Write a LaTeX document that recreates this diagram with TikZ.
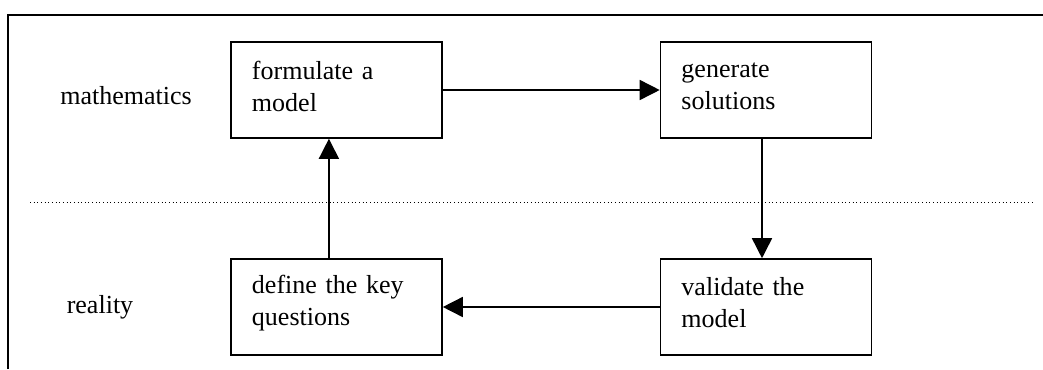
\documentclass[tikz,border=0pt]{standalone}
\usepackage{fontspec}
\setmainfont{Liberation Serif}
\usepackage{tikz}
\usetikzlibrary{arrows.meta,positioning}
\tikzset{
  stagebox/.style={draw, line width=1.1pt, rectangle, minimum width=5.275cm,
    minimum height=2.4cm, inner xsep=0.525cm, text width=4.225cm, align=left,
    font=\fontsize{18.5}{22.8}\selectfont,
    execute at end node={\par\vspace{0.2cm}}},
  flow/.style={line width=1.1pt, -{Triangle[length=5mm,width=5mm]}},
  side/.style={font=\fontsize{18.5}{22.8}\selectfont}
}

\begin{document}
\begin{tikzpicture}[x=0.025cm, y=-0.025cm]
\useasboundingbox (0,0) rectangle (1043,369);

% frame and separator
\draw[line width=1pt] (8,369) -- (8,15) -- (1043,15);
\draw[dotted, line width=0.6pt] (30,202) -- (1035,202);

\node[side] (maths) at (126,96) {mathematics};
\node[side] (real) at (100,307) {reality};

\node[stagebox] (fm) at (336.5,90) {formulate a\\model};
\node[stagebox] (gs) at (766,90) {generate\\solutions};
\node[stagebox] (dq) at (336.5,307) {define the key\\questions};
\node[stagebox] (vm) at (766,307) {validate the\\model};

\draw[flow] (fm.east) -- (gs.west);
\draw[flow] ([xshift=-0.1cm]gs.south) -- ([xshift=-0.1cm]vm.north);
\draw[flow] (vm.west) -- (dq.east);
\draw[flow] ([xshift=-0.19cm]dq.north) -- ([xshift=-0.19cm]fm.south);
\end{tikzpicture}
\end{document}
